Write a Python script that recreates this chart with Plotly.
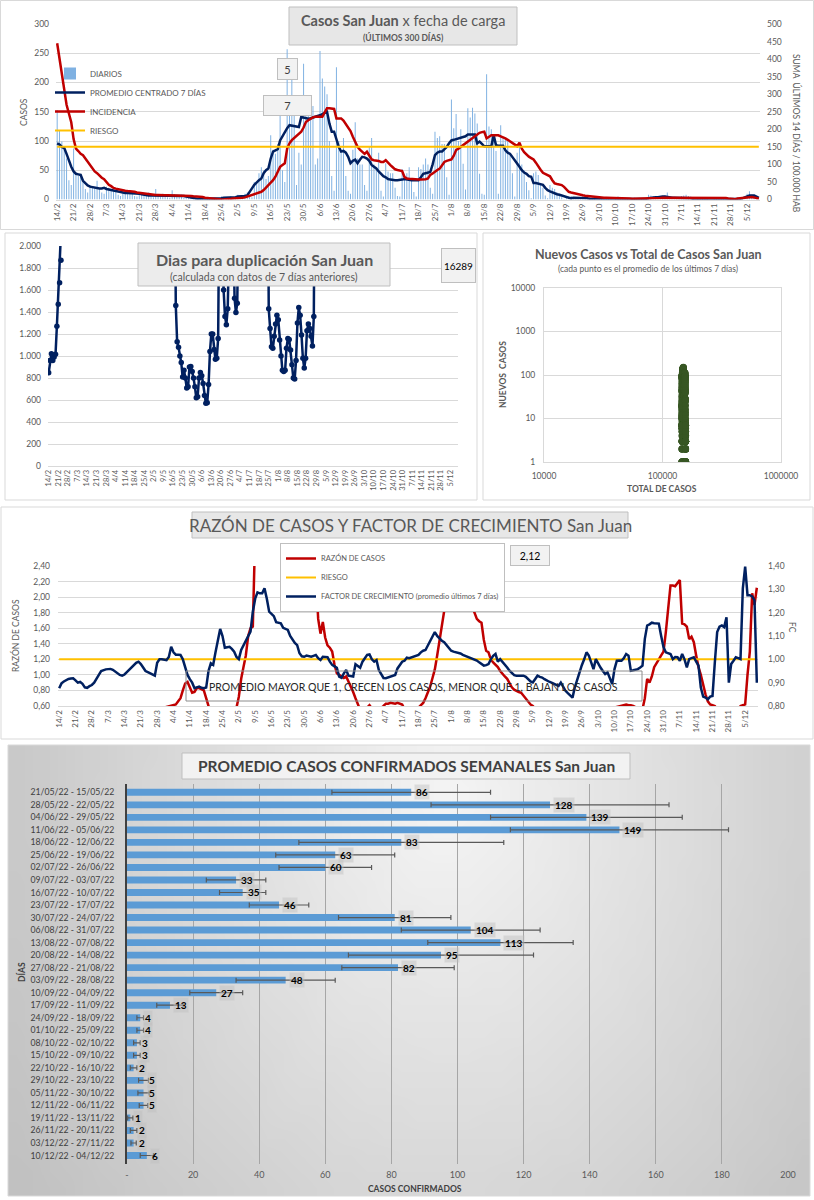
import base64, struct, zlib, math
import numpy as np
import pandas as pd
import plotly.graph_objects as go

W, H = 814, 1200
def px(x): return x / W
def py(y): return 1 - y / H

# ---------------- DATA ----------------
FECHA_INICIO = "2022-02-14"

DIARIOS = [
    153, 119, 99, 85, 70, 33, 25, 87, 45, 40,
    38, 30, 18, 12, 25, 22, 20, 32, 18, 12,
    10, 22, 20, 18, 16, 15, 8, 6, 15, 14,
    12, 13, 11, 6, 5, 12, 10, 11, 9, 12,
    5, 4, 18, 9, 8, 10, 7, 4, 3, 16,
    9, 8, 7, 8, 3, 3, 6, 5, 7, 4,
    3, 2, 2, 4, 3, 2, 3, 2, 1, 1,
    5, 4, 3, 4, 6, 2, 1, 8, 5, 6,
    10, 12, 5, 4, 30, 28, 45, 55, 50, 35,
    40, 110, 85, 78, 95, 144, 50, 30, 257, 150,
    205, 150, 25, 80, 60, 232, 150, 170, 140, 160,
    60, 70, 254, 207, 193, 180, 100, 40, 15, 226,
    100, 80, 105, 40, 15, 10, 85, 132, 70, 60,
    60, 25, 15, 90, 105, 60, 55, 80, 15, 5,
    62, 48, 45, 45, 20, 6, 5, 52, 40, 45,
    55, 35, 13, 5, 55, 52, 60, 70, 60, 20,
    10, 116, 105, 108, 95, 95, 38, 8, 171, 122,
    146, 100, 120, 61, 17, 156, 140, 157, 147, 130,
    44, 10, 8, 214, 125, 120, 105, 83, 10, 127,
    107, 105, 100, 80, 45, 5, 80, 95, 60, 50,
    30, 16, 2, 45, 48, 42, 25, 20, 7, 2,
    25, 20, 18, 12, 10, 4, 1, 6, 5, 6,
    4, 3, 3, 1, 6, 5, 5, 6, 4, 1,
    0, 5, 4, 4, 4, 3, 1, 0, 4, 5,
    4, 4, 3, 1, 0, 3, 3, 2, 3, 2,
    1, 1, 8, 7, 6, 5, 6, 2, 1, 7,
    12, 5, 5, 4, 1, 1, 6, 7, 8, 6,
    5, 2, 0, 2, 1, 2, 1, 1, 0, 0,
    3, 2, 4, 2, 2, 1, 0, 2, 3, 2,
    3, 3, 1, 1, 10, 14, 8, 6, 2, 1,
]

PROMEDIO_7D = [
    96, 94, 90, 88, 78, 65, 56, 48, 44, 43,
    42, 32, 27, 24, 22, 21, 20, 19, 19, 19,
    20, 18, 17, 16, 15, 14, 13, 12, 12, 11,
    11, 11, 10, 10, 10, 10, 9, 8, 7, 7,
    7, 7, 7, 7, 7, 7, 7, 7, 7, 6,
    6, 6, 7, 7, 6, 5, 4, 3, 2, 2,
    1, 1, 1, 1, 1, 1, 1, 1, 2, 2,
    2, 3, 3, 3, 3, 3, 4, 5, 5, 6,
    6, 7, 12, 19, 25, 30, 33, 36, 45, 50,
    53, 70, 82, 84, 86, 101, 108, 116, 122, 127,
    126, 125, 124, 124, 141, 140, 139, 138, 139, 140,
    142, 143, 144, 146, 148, 150, 130, 116, 116, 101,
    90, 82, 83, 80, 73, 62, 66, 68, 62, 68,
    73, 72, 70, 66, 59, 56, 53, 48, 44, 40,
    38, 35, 34, 33, 33, 33, 33, 34, 35, 34,
    33, 33, 33, 33, 33, 38, 44, 45, 46, 47,
    60, 76, 80, 82, 82, 86, 90, 96, 101, 102,
    103, 104, 105, 107, 108, 111, 111, 111, 111, 96,
    99, 95, 91, 91, 91, 91, 110, 93, 92, 92,
    92, 84, 80, 78, 73, 68, 62, 56, 50, 46,
    44, 40, 39, 28, 28, 27, 26, 25, 20, 16,
    14, 12, 10, 9, 8, 7, 5, 4, 3, 2,
    3, 3, 3, 2, 2, 2, 2, 1, 1, 1,
    1, 1, 1, 1, 1, 1, 1, 1, 1, 1,
    1, 1, 1, 1, 1, 1, 0, 0, 0, 0,
    1, 1, 2, 3, 3, 4, 4, 5, 5, 5,
    4, 3, 3, 3, 3, 3, 3, 3, 3, 2,
    2, 1, 1, 1, 1, 0, 0, 0, 0, 0,
    0, 0, 0, 0, 0, 0, 0, 0, 0, 1,
    1, 1, 2, 4, 6, 7, 7, 7, 5, 3,
]

INCIDENCIA = [
    445, 400, 355, 310, 270, 245, 220, 172, 145, 138,
    130, 126, 117, 108, 98, 90, 80, 75, 67, 62,
    58, 50, 42, 38, 33, 31, 29, 27, 26, 25,
    24, 24, 23, 22, 20, 19, 18, 17, 15, 14,
    14, 13, 13, 13, 12, 12, 12, 12, 12, 12,
    12, 12, 11, 11, 11, 10, 10, 10, 9, 9,
    9, 8, 7, 5, 4, 3, 2, 2, 1, 1,
    0, 0, 0, 1, 2, 3, 3, 4, 4, 5,
    6, 8, 10, 12, 14, 17, 20, 22, 27, 35,
    42, 48, 55, 65, 79, 93, 98, 103, 145, 160,
    169, 175, 183, 188, 193, 205, 221, 226, 231, 234,
    236, 236, 236, 236, 248, 260, 260, 260, 258, 231,
    231, 231, 225, 215, 207, 195, 179, 165, 150, 142,
    135, 130, 136, 125, 114, 112, 112, 110, 107, 107,
    112, 104, 98, 92, 86, 84, 82, 81, 64, 60,
    59, 58, 57, 57, 57, 57, 57, 58, 60, 70,
    74, 80, 84, 88, 98, 107, 110, 112, 114, 125,
    141, 145, 150, 155, 160, 164, 170, 175, 179, 185,
    190, 192, 193, 174, 178, 183, 183, 183, 183, 180,
    178, 174, 170, 165, 160, 157, 152, 162, 145, 135,
    128, 122, 118, 114, 105, 93, 85, 76, 73, 69,
    66, 55, 46, 44, 42, 41, 36, 30, 22, 20,
    18, 17, 15, 13, 12, 11, 10, 9, 8, 7,
    7, 6, 6, 5, 5, 5, 5, 5, 5, 5,
    5, 5, 4, 4, 3, 2, 2, 2, 2, 2,
    2, 2, 3, 3, 3, 4, 4, 4, 5, 5,
    5, 6, 6, 6, 6, 6, 6, 6, 6, 6,
    6, 6, 6, 6, 6, 6, 5, 5, 5, 4,
    4, 4, 4, 4, 4, 4, 3, 2, 0, 1,
    3, 4, 5, 6, 7, 7, 7, 6, 4, 2,
]
RIESGO_INCIDENCIA = 150

DIAS_DUPLICACION = [
    848, 960, 1020, 960, 990, 1015, 1270, 1470, 1665, 1870,
    2200, 2700, 3300, 4000, 4600, 5200, 5800, 6300, 6700, 7000,
    7400, 7800, 8200, 8600, 9100, 9600, 10200, 10900, 11600, 12400,
    13100, 13800, 14500, 15200, 15800, 16400, 17300, 18200, 19600, 20900,
    21700, 21900, 22000, 22100, 22300, 22800, 23300, 23900, 24500, 25100,
    25900, 26700, 27800, 29100, 31400, 34200, 38500, 43800, 49700, 55200,
    61000, 68000, 72000, 74000, 71000, 66000, 60000, 53000, 46000, 40000,
    35000, 31000, 28000, 25000, 22000, 19000, 16000, 13000, 11000, 9000,
    7600, 6400, 5500, 4700, 4100, 3600, 3200, 2900, 2700, 2500,
    2600, 3000, 3500, 1460, 1130, 1080, 1000, 940, 810, 870,
    800, 710, 720, 900, 905, 860, 800, 720, 620, 630,
    800, 850, 820, 750, 640, 570, 575, 740, 1040, 1200,
    1200, 1060, 970, 980, 1160, 2700, 3000, 2400, 1600, 1360,
    1285, 1430, 2300, 2600, 2500, 2300, 1525, 1395, 1480, 2600,
    3300, 4200, 5400, 6900, 8700, 10500, 12300, 14200, 15800, 17100,
    17800, 17200, 15400, 12600, 9800, 7300, 5400, 4100, 3200, 2700,
    4000, 1430, 1250, 1085, 1070, 1180, 1290, 1370, 1330, 1145,
    1000, 870, 860, 870, 1070, 1160, 1150, 1055, 920, 800,
    790, 960, 1300, 1440, 1370, 1190, 980, 890, 980, 1230,
    1290, 1250, 1180, 1090, 1360, 2600, 3300, 4200, 5300, 6600,
    8100, 9700, 11400, 13300, 15500, 17800, 20100, 22600, 25300, 28100,
    30900, 33800, 36900, 40000, 43100, 46500, 49800, 53100, 56200, 59000,
    61000, 63500, 65800, 67900, 69500, 70800, 71600, 72000, 71900, 71400,
    70500, 69300, 67800, 66200, 64500, 62700, 60800, 58900, 57000, 55100,
    53300, 51600, 49900, 48300, 46800, 45400, 44100, 42800, 41600, 40500,
    39400, 38300, 37200, 36100, 35000, 34000, 33000, 32100, 31200, 30300,
    29500, 28700, 27900, 27200, 26500, 25800, 25100, 24500, 23900, 23300,
    22700, 22200, 21700, 21200, 20800, 20400, 20000, 19700, 19400, 19100,
    18800, 18500, 18300, 18100, 17900, 17700, 17500, 17300, 17100, 16900,
    16800, 16700, 16600, 16500, 16450, 16400, 16370, 16340, 16310, 16289,
]

RAZON_CASOS = [
    0.52, 0.50, 0.48, 0.47, 0.45, 0.44, 0.43, 0.42, 0.41, 0.40,
    0.40, 0.39, 0.39, 0.38, 0.38, 0.37, 0.37, 0.37, 0.38, 0.38,
    0.39, 0.40, 0.40, 0.41, 0.41, 0.42, 0.42, 0.43, 0.43, 0.44,
    0.44, 0.45, 0.45, 0.46, 0.46, 0.47, 0.47, 0.48, 0.49, 0.50,
    0.51, 0.52, 0.53, 0.54, 0.56, 0.58, 0.59, 0.59, 0.60, 0.61,
    0.62, 0.66, 0.70, 0.80, 0.89, 0.91, 0.85, 0.77, 0.78, 0.83,
    0.83, 0.81, 0.80, 0.70, 0.59, 0.50, 0.45, 0.42, 0.40, 0.40,
    0.40, 0.41, 0.43, 0.45, 0.48, 0.52, 0.58, 0.72, 0.95, 1.10,
    1.25, 1.50, 1.60, 1.62, 2.10, 2.70, 3.40, 4.50, 6.00, 8.00,
    10.0, 9.00, 8.00, 7.00, 6.00, 5.00, 4.50, 4.00, 3.60, 3.30,
    3.10, 2.90, 2.80, 2.70, 2.60, 2.55, 2.50, 2.50, 2.45, 2.45,
    2.30, 1.72, 1.53, 1.68, 1.48, 1.38, 1.35, 1.30, 1.13, 1.02,
    1.00, 0.98, 0.96, 0.98, 0.92, 0.85, 0.78, 0.70, 0.62, 0.55,
    0.52, 0.54, 0.58, 0.61, 0.57, 0.55, 0.54, 0.55, 0.57, 0.60,
    0.63, 0.63, 0.64, 0.63, 0.63, 0.64, 0.63, 0.62, 0.56, 0.52,
    0.50, 0.50, 0.52, 0.55, 0.58, 0.61, 0.64, 0.70, 0.78, 0.85,
    0.96, 1.07, 1.25, 1.45, 1.64, 1.82, 1.85, 1.89, 2.05, 2.50,
    2.90, 3.10, 3.00, 2.80, 2.60, 2.25, 2.02, 1.88, 1.80, 1.72,
    1.69, 1.67, 1.45, 1.31, 1.29, 1.20, 1.16, 1.13, 1.10, 1.05,
    1.01, 0.98, 0.95, 0.89, 0.84, 0.81, 0.79, 0.78, 0.77, 0.73,
    0.70, 0.65, 0.62, 0.60, 0.56, 0.52, 0.50, 0.48, 0.46, 0.45,
    0.44, 0.42, 0.40, 0.38, 0.36, 0.34, 0.32, 0.30, 0.28, 0.27,
    0.27, 0.28, 0.30, 0.32, 0.35, 0.38, 0.40, 0.42, 0.45, 0.48,
    0.50, 0.52, 0.54, 0.55, 0.56, 0.57, 0.57, 0.58, 0.58, 0.59,
    0.60, 0.61, 0.62, 0.62, 0.61, 0.61, 0.60, 0.59, 0.57, 0.55,
    0.56, 0.70, 0.95, 0.90, 0.98, 1.10, 1.16, 1.20, 1.25, 1.30,
    1.55, 1.90, 2.15, 2.15, 2.14, 2.18, 2.22, 1.66, 1.65, 1.62,
    1.46, 1.49, 1.42, 1.25, 1.10, 1.00, 0.86, 0.75, 0.66, 0.62,
    0.61, 0.60, 0.56, 0.52, 0.48, 0.45, 0.42, 0.40, 0.40, 0.42,
    0.48, 0.55, 0.60, 0.61, 0.62, 1.00, 1.30, 2.05, 1.90, 2.12,
]
RIESGO_RAZON = 1.20

FACTOR_CRECIMIENTO = [
    0.876, 0.897, 0.905, 0.911, 0.916, 0.918, 0.919, 0.910, 0.900, 0.903,
    0.895, 0.880, 0.878, 0.885, 0.890, 0.900, 0.920, 0.933, 0.950, 0.955,
    0.957, 0.958, 0.959, 0.955, 0.947, 0.940, 0.933, 0.930, 0.935, 0.945,
    0.955, 0.965, 0.975, 0.985, 0.990, 0.980, 0.965, 0.950, 0.945, 0.940,
    0.935, 0.930, 0.985, 1.000, 1.000, 0.998, 0.997, 1.010, 1.054, 1.030,
    1.020, 1.020, 1.019, 1.000, 0.960, 0.933, 0.915, 0.900, 0.876, 0.880,
    0.883, 0.878, 0.876, 0.879, 0.950, 0.983, 0.976, 1.030, 1.080, 1.130,
    1.100, 1.050, 1.052, 1.054, 1.045, 1.033, 1.010, 1.001, 1.040, 1.060,
    1.085, 1.100, 1.119, 1.204, 1.260, 1.287, 1.283, 1.283, 1.304, 1.260,
    1.204, 1.195, 1.185, 1.159, 1.155, 1.154, 1.135, 1.130, 1.126, 1.100,
    1.083, 1.070, 1.061, 1.026, 1.013, 1.011, 1.016, 1.013, 1.011, 1.015,
    1.019, 1.005, 0.997, 1.011, 1.010, 1.009, 0.990, 0.976, 0.970, 0.964,
    0.926, 0.921, 0.940, 0.954, 0.930, 0.928, 0.926, 0.979, 0.970, 0.964,
    0.990, 1.005, 1.019, 1.021, 1.000, 0.990, 0.997, 0.954, 0.935, 0.920,
    0.919, 0.923, 0.926, 0.930, 0.933, 0.961, 0.975, 0.990, 0.994, 1.007,
    1.005, 1.009, 1.013, 1.016, 1.019, 1.030, 1.037, 1.040, 1.060, 1.081,
    1.100, 1.117, 1.100, 1.088, 1.080, 1.073, 1.060, 1.045, 1.037, 1.033,
    1.030, 1.030, 1.025, 1.019, 1.015, 1.013, 1.010, 1.005, 1.001, 0.995,
    0.987, 0.980, 0.973, 0.975, 0.980, 1.000, 1.015, 1.023, 0.990, 1.001,
    0.990, 0.980, 0.965, 0.951, 0.940, 0.932, 0.930, 0.930, 0.930, 0.930,
    0.925, 0.915, 0.905, 0.901, 0.915, 0.930, 0.925, 0.922, 0.915, 0.908,
    0.904, 0.900, 0.895, 0.890, 0.886, 0.900, 0.880, 0.865, 0.855, 0.843,
    0.836, 0.880, 0.915, 0.944, 0.975, 1.000, 1.030, 1.016, 0.990, 0.958,
    1.001, 0.980, 0.965, 0.950, 0.937, 0.944, 0.920, 0.894, 0.958, 0.994,
    0.995, 0.994, 1.005, 1.023, 1.016, 0.951, 0.953, 0.955, 0.958, 0.965,
    0.973, 1.088, 1.145, 1.150, 1.157, 1.155, 1.155, 1.153, 1.100, 1.052,
    1.030, 1.025, 1.023, 1.001, 1.010, 1.009, 0.994, 1.023, 1.000, 0.965,
    1.001, 1.005, 1.009, 0.990, 0.973, 0.879, 0.840, 0.836, 0.829, 0.840,
    0.843, 0.987, 1.117, 1.140, 1.145, 1.138, 1.180, 0.900, 0.980, 0.994,
    1.009, 1.005, 1.001, 1.304, 1.397, 1.275, 1.275, 1.270, 1.253, 0.900,
]

TOTAL_INICIAL = 145000

SEMANAS = [
    "21/05/22 - 15/05/22", "28/05/22 - 22/05/22", "04/06/22 - 29/05/22",
    "11/06/22 - 05/06/22", "18/06/22 - 12/06/22", "25/06/22 - 19/06/22",
    "02/07/22 - 26/06/22", "09/07/22 - 03/07/22", "16/07/22 - 10/07/22",
    "23/07/22 - 17/07/22", "30/07/22 - 24/07/22", "06/08/22 - 31/07/22",
    "13/08/22 - 07/08/22", "20/08/22 - 14/08/22", "27/08/22 - 21/08/22",
    "03/09/22 - 28/08/22", "10/09/22 - 04/09/22", "17/09/22 - 11/09/22",
    "24/09/22 - 18/09/22", "01/10/22 - 25/09/22", "08/10/22 - 02/10/22",
    "15/10/22 - 09/10/22", "22/10/22 - 16/10/22", "29/10/22 - 23/10/22",
    "05/11/22 - 30/10/22", "12/11/22 - 06/11/22", "19/11/22 - 13/11/22",
    "26/11/22 - 20/11/22", "03/12/22 - 27/11/22", "10/12/22 - 04/12/22",
]
PROMEDIO_SEMANAL = [86, 128, 139, 149, 83, 63, 60, 33, 35, 46, 81, 104, 113, 95, 82,
                    48, 27, 13, 4, 4, 3, 3, 2, 5, 5, 5, 1, 2, 2, 6]
ERROR_SEMANAL = [24, 36, 29, 33, 31, 18, 14, 9, 7, 9, 17, 21, 22, 28, 17,
                 15, 8, 4, 1, 1, 1, 1, 1, 1.5, 1.7, 1.3, 0.8, 1, 0.8, 2]

CAJA_DIARIO = "5"
CAJA_PROMEDIO = "7"

for serie in (DIARIOS, PROMEDIO_7D, INCIDENCIA, DIAS_DUPLICACION, RAZON_CASOS, FACTOR_CRECIMIENTO):
    assert len(serie) == 300, len(serie)

# ---------------- STYLE ----------------
FONT = "Lato, Roboto, sans-serif"
GRIS_TXT = "#595959"
OSCURO = "#404040"
NAVY = "#002060"
ROJO = "#C00000"
AMARILLO = "#FFC000"
AZUL = "#5B9BD5"
AZUL_CLARO = "#7FB1E2"
GRID = "#D9D9D9"

fechas = pd.date_range(FECHA_INICIO, periods=len(DIARIOS), freq="D")
rango_fechas = [fechas[0] - pd.Timedelta(hours=12), fechas[-1] + pd.Timedelta(hours=12)]
SEMANA_MS = 7 * 24 * 3600 * 1000
DIA_MS = 24 * 3600 * 1000
n = len(fechas)

fig = go.Figure()

# Panel 1
fig.add_trace(go.Bar(x=fechas, y=DIARIOS, name="DIARIOS", width=0.42 * DIA_MS,
                     marker=dict(color=AZUL_CLARO, line=dict(width=0)), xaxis="x", yaxis="y", legend="legend"))
fig.add_trace(go.Scatter(x=fechas, y=PROMEDIO_7D, name="PROMEDIO CENTRADO 7 DÍAS", mode="lines",
                         line=dict(color=NAVY, width=2.5), xaxis="x", yaxis="y", legend="legend"))
fig.add_trace(go.Scatter(x=fechas, y=INCIDENCIA, name="INCIDENCIA", mode="lines",
                         line=dict(color=ROJO, width=2.5), xaxis="x", yaxis="y2", legend="legend"))
fig.add_trace(go.Scatter(x=fechas, y=[RIESGO_INCIDENCIA] * n, name="RIESGO", mode="lines",
                         line=dict(color=AMARILLO, width=2), xaxis="x", yaxis="y2", legend="legend"))

# Panel 2
fig.add_trace(go.Scatter(x=fechas, y=DIAS_DUPLICACION, mode="lines+markers", showlegend=False,
                         line=dict(color=NAVY, width=2.5), marker=dict(color=NAVY, size=5.5),
                         xaxis="x3", yaxis="y3"))

# Panel 3
total_casos = TOTAL_INICIAL + np.cumsum(DIARIOS)
fig.add_trace(go.Scatter(x=total_casos, y=PROMEDIO_7D, mode="markers", showlegend=False,
                         marker=dict(color="#375623", size=7), xaxis="x4", yaxis="y4"))

# Panel 4
fig.add_trace(go.Scatter(x=fechas, y=RAZON_CASOS, name="RAZÓN DE CASOS", mode="lines",
                         line=dict(color=ROJO, width=2.5), xaxis="x5", yaxis="y5", legend="legend2"))
fig.add_trace(go.Scatter(x=fechas, y=[RIESGO_RAZON] * n, name="RIESGO", mode="lines",
                         line=dict(color=AMARILLO, width=2), xaxis="x5", yaxis="y5", legend="legend2"))
fig.add_trace(go.Scatter(x=fechas, y=FACTOR_CRECIMIENTO, name="FACTOR DE CRECIMIENTO (promedio últimos 7 días)",
                         mode="lines", line=dict(color=NAVY, width=2.5), xaxis="x5", yaxis="y6", legend="legend2"))

# Panel 5
fig.add_trace(go.Bar(y=SEMANAS, x=PROMEDIO_SEMANAL, orientation="h", showlegend=False,
                     marker=dict(color=AZUL, line=dict(width=0)),
                     error_x=dict(type="data", array=ERROR_SEMANAL, color=GRIS_TXT, thickness=1.2, width=2.5),
                     xaxis="x6", yaxis="y7"))

def eje_fecha(domain, anchor, size):
    return dict(domain=domain, anchor=anchor, type="date", range=rango_fechas, tick0=FECHA_INICIO,
                dtick=SEMANA_MS, tickformat="%-d/%-m", tickangle=-90, automargin=False,
                tickfont=dict(size=size, color=GRIS_TXT), showgrid=False, zeroline=False,
                showline=True, linecolor=GRID, linewidth=1, ticks="")

tf = dict(size=8.5, color=GRIS_TXT)

# background gradient image for bottom panel
GW, GH = 48, 27
rows = []
for j in range(GH):
    row = bytearray()
    for i in range(GW):
        u, v = i / (GW - 1), j / (GH - 1)
        d = math.sqrt(((u - 0.55) / 0.65) ** 2 + ((v - 0.1) / 1.6) ** 2)
        g = int(round(245 - 52 * min(d, 1.0)))
        row += bytes([g, g, g])
    rows.append(bytes(row))
raw = b"".join(b"\x00" + r for r in rows)
def _chunk(t, d):
    c = struct.pack(">I", len(d)) + t + d
    return c + struct.pack(">I", zlib.crc32(t + d) & 0xFFFFFFFF)
png = (b"\x89PNG\r\n\x1a\n" + _chunk(b"IHDR", struct.pack(">IIBBBBB", GW, GH, 8, 2, 0, 0, 0))
       + _chunk(b"IDAT", zlib.compress(raw)) + _chunk(b"IEND", b""))
uri = "data:image/png;base64," + base64.b64encode(png).decode()

shapes = []
def rect(x0, y0, x1, y1, line="#D9D9D9", fill="rgba(0,0,0,0)", width=1, layer="above"):
    shapes.append(dict(type="rect", xref="paper", yref="paper", x0=px(x0), x1=px(x1), y0=py(y1), y1=py(y0),
                       line=dict(color=line, width=width), fillcolor=fill, layer=layer))

# panel borders
rect(0.5, 0.5, 813.5, 229.5)
rect(5, 233, 477, 500)
rect(483, 233, 810, 500)
rect(1, 507, 813, 739)
rect(8, 745, 810, 1196)
# title boxes
rect(289, 7, 517, 45, line="#BFBFBF", fill="#E7E7E7")
rect(138, 243, 390, 286, line="#BFBFBF", fill="#ECECEC")
rect(192, 512, 628, 538, line="#BFBFBF", fill="#E7E7E7")
rect(186, 671, 642, 701, line="#8C8C8C")
rect(182, 753, 630, 779, line="#BFBFBF", fill="#F2F2F2")

ann = []
def txt(x, y, text, size=9, color=GRIS_TXT, angle=0, **kw):
    d = dict(x=px(x), y=py(y), xref="paper", yref="paper", text=text, showarrow=False,
             font=dict(size=size, color=color), textangle=angle, xanchor="center", yanchor="middle")
    d.update(kw)
    ann.append(d)
def caja(x, y, text, w, h, size=11, color=OSCURO):
    ann.append(dict(x=px(x), y=py(y), xref="paper", yref="paper", text=text, showarrow=False,
                    font=dict(size=size, color=color), width=w, height=h, bgcolor="#F2F2F2",
                    bordercolor="#BFBFBF", borderwidth=1, borderpad=0, xanchor="center", yanchor="middle"))

# Panel 1 texts
txt(403, 20, "<b>Casos San Juan</b> x fecha de carga", size=14.5)
txt(403, 38, "<b>(ÚLTIMOS 300 DÍAS)</b>", size=8.5)
txt(24, 112, "CASOS", size=8.5, angle=-90)
txt(797, 133, "SUMA  ÚLTIMOS 14 DÍAS / 100.000 HAB", size=8.5, angle=90)
caja(287.5, 69, CAJA_DIARIO, 19, 20)
caja(287.5, 105.5, CAJA_PROMEDIO, 47, 19)

# Panel 2 texts
txt(264, 259, "<b>Dias para duplicación San Juan</b>", size=16)
txt(264, 277, "(calculada con datos de 7 días anteriores)", size=10.5)
caja(458, 265, str(DIAS_DUPLICACION[-1]), 33, 33, size=10, color="#000000")

# Panel 3 texts
txt(648, 254, "<b>Nuevos Casos vs Total de Casos San Juan</b>", size=12.5)
txt(648, 269, "(cada punto es el promedio de los últimos 7 días)", size=8.5)
txt(503, 375, "<b>NUEVOS  CASOS</b>", size=8.5, angle=-90)
txt(662, 489, "<b>TOTAL DE CASOS</b>", size=8.5)

# Panel 4 texts
txt(410, 525, "RAZÓN DE CASOS Y FACTOR DE CRECIMIENTO San Juan", size=17)
caja(530, 555.5, f"{RAZON_CASOS[-1]:.2f}".replace(".", ","), 38, 19, size=10.5, color="#000000")
txt(413, 687, "PROMEDIO MAYOR QUE 1, CRECEN LOS CASOS, MENOR QUE 1, BAJAN LOS CASOS", size=10.5, color="#262626")
txt(15, 636, "RAZÓN DE CASOS", size=8.5, angle=-90)
txt(792, 627, "FC", size=8.5, angle=90)

# Panel 5 texts
txt(406, 766, "<b>PROMEDIO CASOS CONFIRMADOS SEMANALES San Juan</b>", size=15.5, color=OSCURO)
txt(21, 972, "<b>DÍAS</b>", size=8.5, color=OSCURO, angle=-90)
txt(415, 1189, "<b>CASOS CONFIRMADOS</b>", size=8.5, color=OSCURO)
for v, s in zip(PROMEDIO_SEMANAL, SEMANAS):
    ann.append(dict(x=v, y=s, xref="x6", yref="y7", text=f"<b>{v}</b>", showarrow=False,
                    xanchor="left", yanchor="middle", xshift=3, font=dict(size=10, color="#000000"),
                    bgcolor="rgba(190,190,190,0.45)", borderpad=1))

ax_common = dict(automargin=False)
fig.update_layout(
    width=W, height=H, autosize=False, margin=dict(l=0, r=0, t=0, b=0, pad=0, autoexpand=False),
    paper_bgcolor="white", plot_bgcolor="rgba(0,0,0,0)",
    font=dict(family=FONT, size=9, color=GRIS_TXT), separators=",.",
    hovermode=False, bargap=0.45,
    xaxis=eje_fecha([px(56), px(760)], "y", 8),
    yaxis=dict(domain=[py(199.5), py(24)], anchor="x", range=[0, 300], dtick=50, gridcolor=GRID,
               zeroline=False, tickfont=tf, ticks="", ticklabelstandoff=6, **ax_common),
    yaxis2=dict(overlaying="y", anchor="x", side="right", range=[0, 500], dtick=50, showgrid=False,
                zeroline=False, tickfont=tf, ticks="", ticklabelstandoff=6, **ax_common),
    xaxis3=eje_fecha([px(48), px(458)], "y3", 7.5),
    yaxis3=dict(domain=[py(466), py(246)], anchor="x3", range=[0, 2000], dtick=200, tickformat=",.0f",
                gridcolor=GRID, zeroline=False, tickfont=tf, ticks="", ticklabelstandoff=6, **ax_common),
    xaxis4=dict(domain=[px(544), px(781)], anchor="y4", type="log", range=[4, 6], dtick=1, tickformat="d",
                gridcolor=GRID, showline=True, mirror=True, linecolor=GRID, zeroline=False, ticks="",
                tickfont=tf, ticklabelstandoff=6, **ax_common),
    yaxis4=dict(domain=[py(462), py(288)], anchor="x4", type="log", range=[0, 4], dtick=1, tickformat="d",
                gridcolor=GRID, showline=True, mirror=True, linecolor=GRID, zeroline=False, ticks="",
                tickfont=tf, ticklabelstandoff=6, **ax_common),
    xaxis5=eje_fecha([px(58), px(758)], "y5", 8),
    yaxis5=dict(domain=[py(706), py(566)], anchor="x5", range=[0.6, 2.4], tick0=0.6, dtick=0.2,
                tickformat=".2f", gridcolor=GRID, zeroline=False, tickfont=tf, ticks="", ticklabelstandoff=7,
                **ax_common),
    yaxis6=dict(overlaying="y5", anchor="x5", side="right", range=[0.8, 1.4], tick0=0.8, dtick=0.1,
                tickformat=".2f", showgrid=False, zeroline=False, tickfont=tf, ticks="", ticklabelstandoff=9,
                **ax_common),
    xaxis6=dict(domain=[px(127), px(788)], anchor="y7", range=[0, 200],
                tickvals=list(range(0, 201, 20)), ticktext=["-"] + [str(v) for v in range(20, 201, 20)],
                showgrid=True, gridcolor="#A6A6A6", gridwidth=1, zeroline=False, showline=False, ticks="",
                tickfont=dict(size=9, color=GRIS_TXT), ticklabelstandoff=4, **ax_common),
    yaxis7=dict(domain=[py(1163.5), py(784.3)], anchor="x6", type="category", categoryorder="array",
                categoryarray=SEMANAS, autorange="reversed", showline=True, linecolor=OSCURO, linewidth=2,
                showgrid=False, ticks="", tickfont=dict(size=8.7, color=OSCURO), ticklabelstandoff=9,
                **ax_common),
    legend=dict(x=px(50), y=py(59), xanchor="left", yanchor="top", bgcolor="rgba(0,0,0,0)",
                font=dict(size=8, color=GRIS_TXT), tracegroupgap=0),
    legend2=dict(x=px(280), y=py(543), xanchor="left", yanchor="top", bgcolor="white",
                 bordercolor="#BFBFBF", borderwidth=1, font=dict(size=7.5, color=GRIS_TXT)),
    shapes=shapes, annotations=ann,
    images=[dict(source=uri, xref="paper", yref="paper", x=px(8), y=py(745), sizex=px(810) - px(8),
                 sizey=(1196 - 745) / H, sizing="stretch", layer="below", xanchor="left", yanchor="top")],
)

fig.write_html("out.html", config={"displayModeBar": False, "staticPlot": True},
               post_script="document.body.style.margin='0';document.body.style.padding='0';"
                           "document.documentElement.style.overflow='hidden';")
